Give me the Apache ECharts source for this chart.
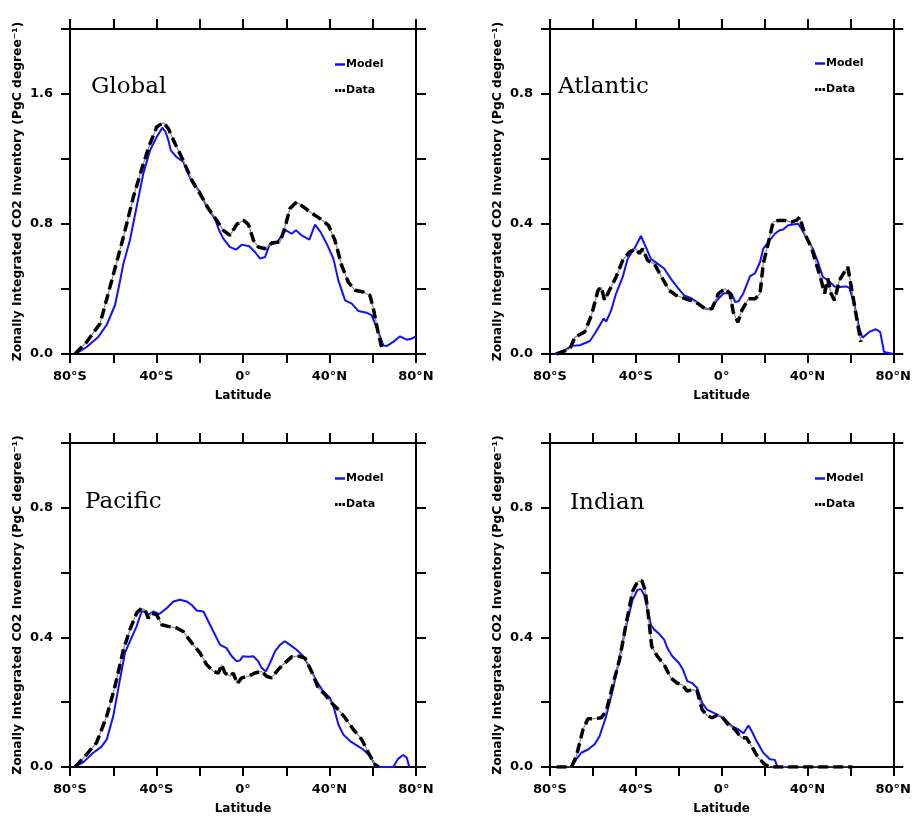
<!DOCTYPE html>
<html>
<head>
<meta charset="utf-8">
<script src="https://cdn.jsdelivr.net/npm/echarts@6/dist/echarts.min.js"></script>
<style>html,body{margin:0;padding:0;background:#fff}#c{width:914px;height:816px}</style>
</head>
<body>
<div id="c"></div>
<script>
// ---- Data: [latitude, PgC per degree] ----
const panelTitles = ['Global', 'Atlantic', 'Pacific', 'Indian'];
const seriesNames = ['Model', 'Data'];
const xTickLabels = {'-80': '80°S', '-40': '40°S', '0': '0°', '40': '40°N', '80': '80°N'};
const yMaxes = [2.0, 1.0, 1.0, 1.0];
const yIntervals = [0.4, 0.2, 0.2, 0.2];
const yLabelSteps = [0.8, 0.4, 0.4, 0.4];

const globalModel = [[-77.7,0],[-75,0.02],[-72.3,0.043],[-69.5,0.075],[-66.9,0.105],[-63,0.18],[-59.2,0.30],[-57,0.44],[-55.3,0.556],[-52.3,0.70],[-49.2,0.905],[-46.1,1.11],[-43,1.253],[-39.9,1.335],[-37.3,1.393],[-35.8,1.366],[-34.5,1.315],[-33.4,1.253],[-30.7,1.212],[-27.6,1.182],[-25,1.10],[-23,1.048],[-19.9,0.997],[-16.8,0.905],[-13,0.833],[-11,0.76],[-9.1,0.71],[-6,0.658],[-3.2,0.642],[-0.6,0.673],[2.9,0.663],[5.5,0.628],[7.9,0.587],[10.2,0.597],[12.5,0.679],[15.6,0.683],[17.9,0.73],[19.9,0.761],[22.5,0.74],[24.5,0.761],[27.1,0.73],[30.7,0.704],[33.3,0.796],[35.9,0.75],[38.7,0.679],[41.8,0.587],[44.1,0.453],[47.2,0.33],[50.3,0.31],[53.3,0.265],[57.2,0.254],[59.5,0.238],[62.6,0.135],[64.9,0.053],[66.4,0.049],[69.5,0.074],[72.6,0.109],[75.7,0.088],[78,0.094],[80,0.109]];
const globalData = [[-77.7,0],[-72.3,0.074],[-66.1,0.187],[-61.5,0.413],[-55.3,0.72],[-50.7,0.966],[-46.1,1.17],[-43,1.294],[-39.9,1.397],[-36.8,1.424],[-34.5,1.387],[-31.4,1.294],[-27.6,1.19],[-23.7,1.069],[-19.9,0.987],[-16,0.895],[-12.2,0.823],[-9.1,0.761],[-6,0.73],[-2.9,0.798],[0.2,0.823],[2.5,0.798],[4.8,0.70],[7.1,0.658],[10.2,0.648],[13.3,0.683],[17.2,0.69],[19.4,0.78],[21.7,0.895],[24.8,0.936],[27.9,0.905],[31.7,0.868],[35.6,0.833],[39.5,0.792],[42.5,0.70],[45.6,0.546],[48.7,0.443],[51.8,0.392],[55.6,0.382],[58.7,0.361],[60.3,0.279],[62.6,0.125],[64.1,0.043]];

const atlanticModel = [[-78,0],[-73,0.011],[-70,0.025],[-66.1,0.027],[-61.4,0.04],[-59.1,0.063],[-56.2,0.095],[-55,0.109],[-53.8,0.10],[-51.5,0.134],[-49.2,0.186],[-46.1,0.237],[-43.8,0.293],[-40.7,0.324],[-37.6,0.363],[-35.3,0.329],[-33,0.293],[-29.9,0.278],[-26.8,0.263],[-23.7,0.232],[-20.7,0.206],[-17.6,0.181],[-13.7,0.17],[-10.6,0.155],[-7.6,0.139],[-5.2,0.139],[-2.2,0.165],[0.8,0.186],[3.1,0.188],[4.7,0.186],[6.3,0.16],[7.9,0.162],[10.2,0.188],[13.2,0.239],[15.6,0.249],[17.9,0.283],[19.4,0.324],[22.5,0.35],[24.8,0.37],[27.1,0.381],[28.7,0.383],[31,0.396],[34.1,0.399],[35.6,0.401],[37.1,0.386],[40.2,0.35],[42.5,0.324],[44.9,0.283],[47.2,0.237],[49.5,0.227],[52.6,0.208],[54.9,0.206],[58,0.208],[59.5,0.204],[61.8,0.155],[64.2,0.078],[65.7,0.05],[68.8,0.068],[71.9,0.076],[73.9,0.068],[75.7,0.006],[78,0.003],[80,0]];
const atlanticData = [[-76.9,0],[-70.7,0.016],[-68.4,0.052],[-63.8,0.068],[-60.7,0.119],[-57.6,0.196],[-56.1,0.206],[-54.6,0.165],[-52.3,0.196],[-49.2,0.237],[-46.1,0.288],[-43,0.314],[-39.9,0.324],[-38.4,0.309],[-36.8,0.324],[-34.5,0.288],[-31.4,0.278],[-28.4,0.242],[-24.5,0.196],[-21.4,0.181],[-16.8,0.17],[-12.2,0.16],[-7.6,0.139],[-4.5,0.139],[-1.5,0.186],[1.6,0.201],[3.9,0.186],[5.4,0.129],[7.6,0.098],[9.4,0.134],[12.5,0.17],[15.6,0.17],[17.9,0.186],[19.4,0.278],[21.7,0.34],[24,0.406],[26.4,0.411],[29.4,0.411],[32.5,0.406],[34.8,0.411],[36.4,0.421],[38.7,0.37],[41.8,0.329],[44.1,0.278],[46.4,0.227],[48,0.186],[49.5,0.232],[51,0.186],[52.6,0.165],[54.9,0.227],[57.2,0.252],[58.8,0.268],[60.3,0.211],[62.6,0.124],[64.9,0.037]];

const pacificModel = [[-77.7,0],[-73.8,0.015],[-69.2,0.044],[-65.4,0.063],[-63,0.085],[-60,0.157],[-56.9,0.27],[-54.6,0.352],[-52.3,0.388],[-49.2,0.434],[-46.9,0.48],[-45.3,0.48],[-43.8,0.47],[-41.5,0.48],[-38.7,0.472],[-35.3,0.49],[-32.2,0.511],[-29.1,0.516],[-26.1,0.511],[-23.7,0.50],[-21.4,0.483],[-18.3,0.48],[-16,0.449],[-13.7,0.418],[-10.6,0.377],[-7.6,0.367],[-5.2,0.342],[-2.9,0.326],[-1.4,0.329],[-0.1,0.342],[2.5,0.34],[4.8,0.342],[7.1,0.326],[8.6,0.306],[10.6,0.295],[12.5,0.321],[14.8,0.357],[17.1,0.377],[19.4,0.388],[21.7,0.377],[24.8,0.362],[27.9,0.342],[30.9,0.306],[34,0.265],[37.1,0.234],[40.2,0.213],[41.8,0.188],[44.1,0.131],[46.4,0.10],[49.5,0.08],[52.6,0.067],[55.6,0.054],[58.7,0.034],[61,0.008],[63.4,0],[69.5,0],[71.8,0.026],[74.1,0.037],[75.7,0.029],[76.9,0]];
const pacificData = [[-77.7,0],[-72.3,0.039],[-67.7,0.075],[-63,0.157],[-59.2,0.249],[-55.3,0.362],[-52.3,0.424],[-49.2,0.475],[-46.9,0.49],[-45.3,0.485],[-43.8,0.459],[-42.2,0.475],[-39.9,0.47],[-37.6,0.439],[-34.5,0.434],[-30.7,0.429],[-27.6,0.418],[-23.7,0.383],[-19.9,0.352],[-16.8,0.316],[-13.7,0.295],[-11.4,0.29],[-9.9,0.316],[-8.3,0.29],[-6,0.28],[-4.5,0.29],[-2.6,0.257],[-0.7,0.275],[2.5,0.28],[5.5,0.29],[8.6,0.295],[10.9,0.28],[13.2,0.275],[16.3,0.301],[19.4,0.321],[22.5,0.34],[25.6,0.342],[28.7,0.336],[31.7,0.295],[34.8,0.244],[37.9,0.224],[40.9,0.198],[44.1,0.177],[47.2,0.152],[51,0.116],[54.9,0.085],[58,0.044],[61,0.008],[62.6,0]];

const indianModel = [[-70,0],[-67.7,0.024],[-65.4,0.044],[-62.3,0.054],[-59.2,0.07],[-56.9,0.095],[-53.8,0.157],[-50.7,0.239],[-47.6,0.336],[-44.6,0.434],[-41.5,0.516],[-39.2,0.547],[-37.6,0.549],[-36.1,0.531],[-34.5,0.485],[-33,0.439],[-31.4,0.424],[-29.1,0.411],[-26.8,0.393],[-25.3,0.367],[-23,0.342],[-19.9,0.321],[-18,0.30],[-16,0.265],[-13.7,0.259],[-11.4,0.244],[-9.1,0.198],[-6.8,0.177],[-3.7,0.167],[-0.8,0.157],[1.6,0.147],[4.7,0.126],[7.8,0.116],[10.2,0.104],[12.5,0.128],[14,0.111],[16.3,0.08],[19.4,0.044],[22.5,0.024],[24.8,0.022],[26,0],[30,0]];
const indianData = [[-76.9,0],[-70,0],[-67.7,0.034],[-64.6,0.116],[-62.3,0.149],[-59.2,0.149],[-56.1,0.152],[-53.8,0.172],[-50.7,0.254],[-47.6,0.331],[-44.6,0.439],[-41.5,0.542],[-39.2,0.572],[-37.2,0.575],[-35.7,0.547],[-34.1,0.465],[-32.6,0.372],[-30,0.342],[-26.8,0.316],[-23.7,0.275],[-20.7,0.259],[-18.4,0.254],[-16,0.234],[-13.7,0.239],[-11.4,0.234],[-9.1,0.177],[-6.8,0.159],[-4.5,0.152],[-2.2,0.159],[0,0.157],[3.1,0.131],[6.2,0.116],[9.2,0.09],[11.6,0.09],[13.9,0.065],[17,0.029],[20.1,0.008],[22.5,0],[61,0]];

const modelSets = [globalModel, atlanticModel, pacificModel, indianModel];
const dataSets = [globalData, atlanticData, pacificData, indianData];

// ---- Layout ----
const grids = [
  {left: 70, top: 29, width: 346, height: 325},
  {left: 550, top: 29, width: 346, height: 325},
  {left: 70, top: 443, width: 346, height: 325},
  {left: 550, top: 443, width: 346, height: 325}
];
const titlePos = [[91, 89], [558, 89], [85, 504], [570, 505]];
const legendPos = [[330, 54], [810, 53], [330, 468], [810, 468]];

const FONT = 'DejaVu Sans';
const axisLineStyle = {color: '#000', width: 2};
const modelIcon = 'path://M0,0 L10,0 L10,2.5 L0,2.5 Z';
const dataIcon = 'path://M0,0 L2.5,0 L2.5,3 L0,3 Z M3.7,0 L6.2,0 L6.2,3 L3.7,3 Z M7.4,0 L9.9,0 L9.9,3 L7.4,3 Z';

const xAxes = [], yAxes = [], series = [], legends = [], graphics = [];
grids.forEach((g, i) => {
  const base = {type: 'value', min: -80, max: 80, interval: 20, gridIndex: i, splitLine: {show: false},
    axisLine: {show: true, onZero: false, lineStyle: axisLineStyle}};
  xAxes.push(Object.assign({}, base, {
    position: 'bottom',
    axisTick: {show: true, inside: false, length: 9, lineStyle: axisLineStyle},
    axisLabel: {margin: 16, fontFamily: FONT, fontWeight: 'bold', fontSize: 13, color: '#000',
      formatter: v => xTickLabels[String(Math.round(v))] || ''},
    name: 'Latitude', nameLocation: 'middle', nameGap: 36,
    nameTextStyle: {fontFamily: FONT, fontWeight: 'bold', fontSize: 12, color: '#000'}
  }));
  xAxes.push(Object.assign({}, base, {
    position: 'top',
    axisTick: {show: true, inside: false, length: 10, lineStyle: axisLineStyle},
    axisLabel: {show: false}
  }));
  const ybase = {type: 'value', min: 0, max: yMaxes[i], interval: yIntervals[i], gridIndex: i, splitLine: {show: false},
    axisLine: {show: true, onZero: false, lineStyle: axisLineStyle}};
  const step = yLabelSteps[i];
  yAxes.push(Object.assign({}, ybase, {
    position: 'left',
    axisTick: {show: true, inside: false, length: 9, lineStyle: axisLineStyle},
    axisLabel: {margin: 17, fontFamily: FONT, fontWeight: 'bold', fontSize: 13, color: '#000',
      formatter: v => (Math.abs(v / step - Math.round(v / step)) < 1e-6 && v < yMaxes[i] - 1e-6) ? v.toFixed(1) : ''},
    name: 'Zonally Integrated CO2 Inventory (PgC degree\u207B\u00B9)', nameLocation: 'middle', nameGap: 46,
    nameTextStyle: {fontFamily: FONT, fontWeight: 'bold', fontSize: 12.3, color: '#000'}
  }));
  yAxes.push(Object.assign({}, ybase, {
    position: 'right',
    axisTick: {show: true, inside: false, length: 10, lineStyle: axisLineStyle},
    axisLabel: {show: false}
  }));
  series.push({name: seriesNames[0], type: 'line', xAxisIndex: 2 * i, yAxisIndex: 2 * i, data: modelSets[i],
    symbol: 'none', lineStyle: {color: '#1010ff', width: 2}, itemStyle: {color: '#1010ff'}, z: 3, silent: true});
  series.push({name: 'DataGuide', type: 'line', xAxisIndex: 2 * i, yAxisIndex: 2 * i, data: dataSets[i],
    symbol: 'none', lineStyle: {color: '#8a8a8a', width: 1.2}, z: 4, silent: true});
  series.push({name: seriesNames[1], type: 'line', xAxisIndex: 2 * i, yAxisIndex: 2 * i, data: dataSets[i],
    symbol: 'none', lineStyle: {color: '#000', width: 3.5, type: [10, 5]}, itemStyle: {color: '#000'}, z: 5, silent: true});
  legends.push({data: [{name: seriesNames[0], icon: modelIcon}, {name: seriesNames[1], icon: dataIcon}],
    orient: 'vertical', left: legendPos[i][0], top: legendPos[i][1],
    itemWidth: 10, itemHeight: 3, itemGap: 15, selectedMode: false,
    textStyle: {fontFamily: FONT, fontWeight: 'bold', fontSize: 11, color: '#000', padding: [0, 0, 0, -4]}});
  graphics.push({type: 'text', left: titlePos[i][0], top: titlePos[i][1] - 13,
    style: {text: panelTitles[i], font: '23px "DejaVu Serif"', fill: '#000'}});
});

const chart = echarts.init(document.getElementById('c'), null, {renderer: 'canvas'});
chart.setOption({
  animation: false,
  backgroundColor: '#fff',
  grid: grids,
  xAxis: xAxes,
  yAxis: yAxes,
  legend: legends,
  series: series,
  graphic: graphics
});
</script>
</body>
</html>
